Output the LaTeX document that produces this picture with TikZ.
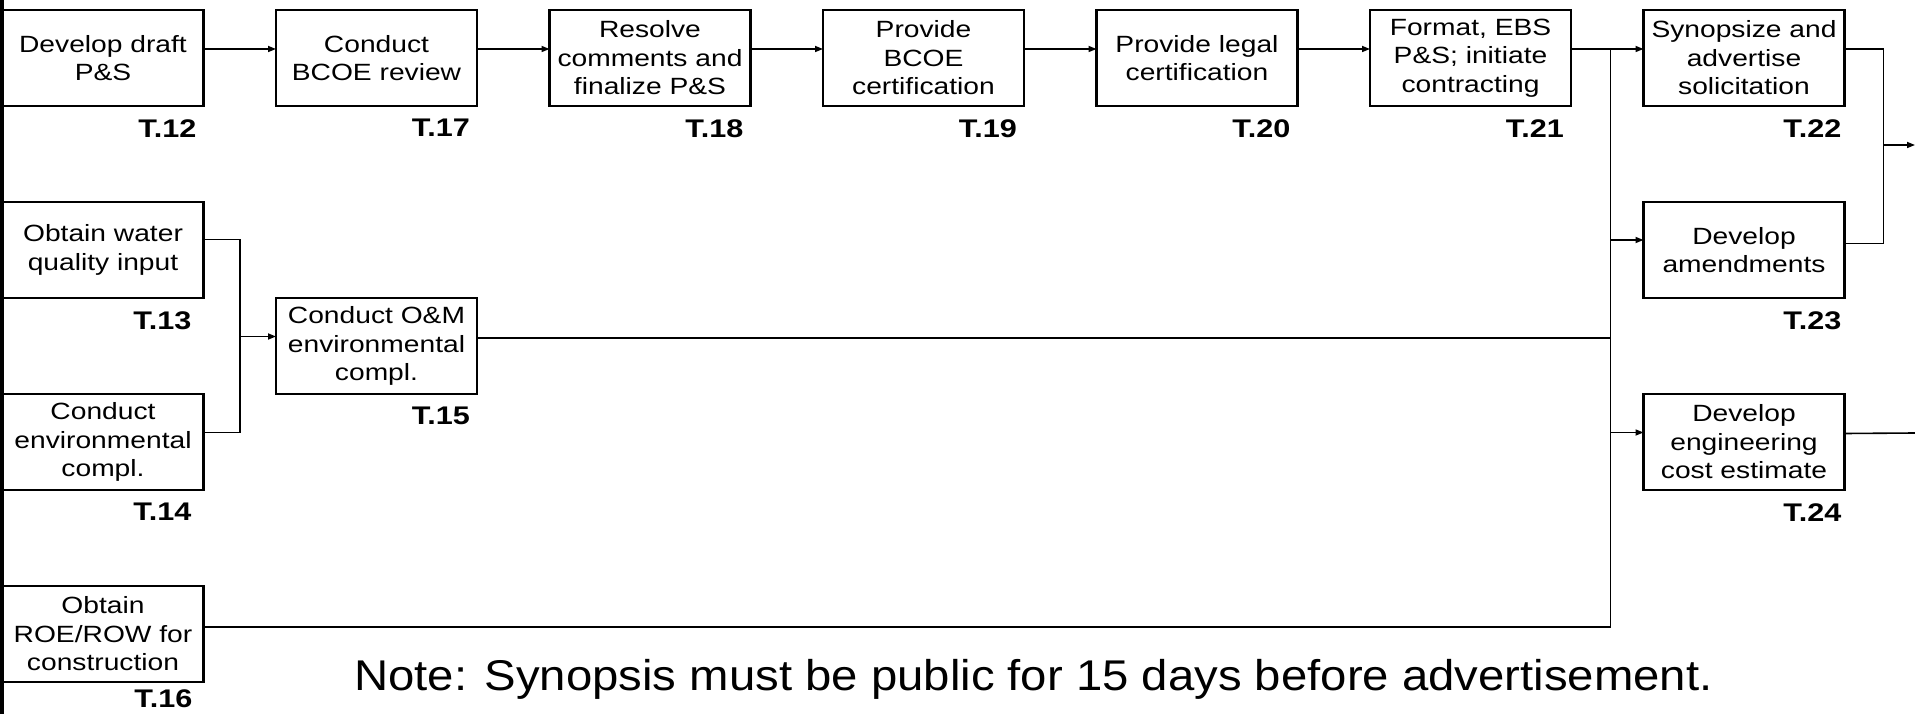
\documentclass[tikz,border=0pt]{standalone}
\usepackage{fontspec}
\setmainfont[FakeStretch=1.2]{Liberation Sans}
\newfontfamily\notefont[FakeStretch=1.1]{Liberation Sans}
\usetikzlibrary{arrows.meta,positioning,calc}
\tikzset{
  task/.style={
    draw,
    line width=2.5pt,
    minimum width=201pt,
    minimum height=96pt,
    inner sep=0pt,
    outer sep=0pt,
    align=center,
    font=\fontsize{23.5}{28.5}\selectfont
  },
  tag/.style={
    inner sep=0pt,
    font=\fontsize{25.5}{28}\selectfont\bfseries
  },
  wire/.style={
    line width=1.6pt
  },
  flow/.style={
    wire,
    -{Triangle[length=8pt,width=6pt]}
  }
}
\begin{document}
\begin{tikzpicture}[x=1pt,y=-1pt,node distance=96pt and 72.5pt]
    \useasboundingbox (0,0) rectangle (1915,714);
    \path{
      node[task] (t12) at (103,58) {Develop draft\\P\&S}
      node[task] (t17) [right=of t12] {Conduct\\BCOE review}
      node[task] (t18) [right=of t17] {Resolve\\comments and\\finalize P\&S}
      node[task] (t19) [right=of t18] {Provide\\BCOE\\certification}
      node[task] (t20) [right=of t19] {Provide legal\\certification}
      node[task] (t21) [right=of t20] {Format, EBS\\P\&S; initiate\\contracting}
      node[task] (t22) [right=of t21] {Synopsize and\\advertise\\solicitation}
      node[task] (t13) [below=of t12] {Obtain water\\quality input}
      node[task] (t14) [below=of t13] {Conduct\\environmental\\compl.}
      node[task] (t16) [below=of t14] {Obtain\\ROE/ROW for\\construction}
      node[task] (t15) at ($(t13)!0.5!(t14)+(273.5,0)$) {Conduct O\&M\\environmental\\compl.}
      node[task] (t23) [below=of t22] {Develop\\amendments}
      node[task] (t24) [below=of t23] {Develop\\engineering\\cost estimate}
    };

    \path{
      node[tag] (l12) [below left=13pt and 7pt of t12.south east] {T.12}
      node[tag] (l17) [below left=13pt and 7pt of t17.south east] {T.17}
      node[tag] (l18) [below left=13pt and 7pt of t18.south east] {T.18}
      node[tag] (l19) [below left=13pt and 7pt of t19.south east] {T.19}
      node[tag] (l20) [below left=13pt and 7pt of t20.south east] {T.20}
      node[tag] (l21) [below left=13pt and 7pt of t21.south east] {T.21}
      node[tag] (l22) [below left=13pt and 3pt of t22.south east] {T.22}
      node[tag] (l13) [below left=13pt and 12pt of t13.south east] {T.13}
      node[tag] (l14) [below left=13pt and 12pt of t14.south east] {T.14}
      node[tag] (l15) [below left=13pt and 7pt of t15.south east] {T.15}
      node[tag] (l16) [below left=7pt and 11pt of t16.south east] {T.16}
      node[tag] (l23) [below left=13pt and 3pt of t23.south east] {T.23}
      node[tag] (l24) [below left=13pt and 3pt of t24.south east] {T.24}
      node[font=\notefont\fontsize{43}{50}\selectfont,inner sep=0pt,anchor=base west] (note) at (354,690)
        {Note: Synopsis must be public for 15 days before advertisement.}
    };

    % page edge
    \draw[line width=4pt] (2,0) -- (2,714);

    \coordinate (bus) at ([xshift=-33pt,yshift=9pt]t22.west);
    \coordinate (join) at ($(t13.east)!0.5!(t15.west)$);
    \coordinate (merge) at ([xshift=39pt,yshift=9pt]t22.east);
    \coordinate (next) at (1915,145);
    \coordinate (cut) at (1915,433);

    \path{
      ([yshift=9pt]t12.east) edge[flow] ([yshift=9pt]t17.west)
      ([yshift=9pt]t17.east) edge[flow] ([yshift=9pt]t18.west)
      ([yshift=9pt]t18.east) edge[flow] ([yshift=9pt]t19.west)
      ([yshift=9pt]t19.east) edge[flow] ([yshift=9pt]t20.west)
      ([yshift=9pt]t20.east) edge[flow] ([yshift=9pt]t21.west)
      ([yshift=9pt]t21.east) edge[flow] ([yshift=9pt]t22.west)
      ($(bus |- t23.west)+(0,-10)$) edge[flow] ([yshift=10pt]t23.west)
      ($(bus |- t24.west)+(0,-9.5)$) edge[flow] ([yshift=9.5pt]t24.west)
      ($(join |- t15.west)+(0,-9.5)$) edge[flow] ([yshift=9.5pt]t15.west)
      (merge |- next) edge[flow] (next)
    };

    \draw[wire] ([yshift=7pt]t16.east) -| (bus);
    \draw[wire] ([yshift=8pt]t15.east) -| (bus);
    \draw[wire] ([yshift=10.5pt]t13.east) -| ($(join |- t14.east)+(0,-9.5)$) -- ([yshift=9.5pt]t14.east);
    \draw[wire] ([yshift=9pt]t22.east) -- (merge) |- ([yshift=6.5pt]t23.east);
    \draw[wire] ([yshift=8.5pt]t24.east) -- (cut);
  \end{tikzpicture}
\end{document}
